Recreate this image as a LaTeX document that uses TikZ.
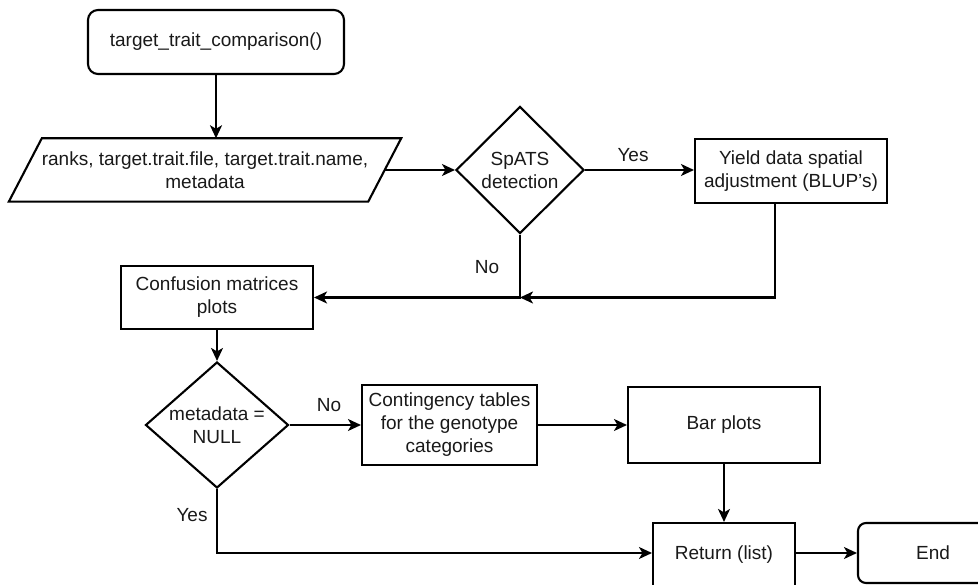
\documentclass[tikz,border=0pt]{standalone}
\usepackage{fontspec}
\setmainfont{Liberation Sans}
\usetikzlibrary{shapes.geometric,arrows.meta}

\begin{document}
\begin{tikzpicture}[x=1pt,y=-1pt,
  every node/.style={font=\fontsize{19}{23}\selectfont, text=black!90},
  base/.style={draw=black, line width=2.1pt, align=center, inner sep=0pt},
  procbox/.style={base, rectangle},
  termbox/.style={base, rectangle, rounded corners=10pt},
  decision/.style={base, diamond},
  edgelabel/.style={inner sep=0pt},
  arr/.style={draw=black, line width=2.1pt,
    -{Stealth[length=13pt, width=12pt, inset=3.5pt]}},
  plain/.style={draw=black, line width=2.1pt}]

\clip (0,0) rectangle (978,585);
\useasboundingbox (0,0) rectangle (978,585);

% nodes
\node[termbox, minimum width=256, minimum height=64] (start) at (216,42)
  {target\_trait\_comparison()};

\node[align=center, inner sep=0pt, minimum width=359, minimum height=63] (input) at (205,170)
  {ranks, target.trait.file, target.trait.name,\\metadata};
\draw[plain, line join=miter]
  ([xshift=-16.5pt]input.south west) -- ([xshift=16.5pt]input.north west)
  -- ([xshift=16.5pt]input.north east) -- ([xshift=-16.5pt]input.south east) -- cycle;

\node[decision, minimum width=128, minimum height=127,
  label={[align=center]center:SpATS\\detection}] (spats) at (520,170) {};

\node[procbox, minimum width=192, minimum height=64] (yield) at (791,171)
  {Yield data spatial\\adjustment (BLUP's)};

\node[procbox, minimum width=192, minimum height=63] (conf) at (217,297.5)
  {Confusion matrices\\plots};

\node[decision, minimum width=143, minimum height=126,
  label={[align=center]center:metadata =\\NULL}] (meta) at (217,425) {};

\node[procbox, minimum width=175, minimum height=80] (cont) at (449.5,425)
  {Contingency tables\\for the genotype\\categories};

\node[procbox, minimum width=192, minimum height=76] (bar) at (724,425)
  {Bar plots};

\node[procbox, minimum width=142, minimum height=64] (ret) at (724,555)
  {Return (list)};

\node[termbox, rounded corners=8pt, minimum width=150, minimum height=60] (end) at (933,553)
  {End};

% connectors
\draw[arr] (start.south) -- (start.south |- input.north);
\draw[arr] (input.east) -- (spats.west);
\draw[arr] (spats.east) -- (yield.west |- spats.east);
\draw[arr] ([xshift=-16pt]yield.south) |- (spats.south |- conf.east);
\draw[arr] (spats.south) |- (conf.east);
\draw[arr] (conf.south) -- (meta.north);
\draw[arr] (meta.east) -- (cont.west);
\draw[arr] (cont.east) -- (bar.west);
\draw[arr] (bar.south) -- (ret.north);
\draw[arr] (meta.south) |- (ret.west |- end.west);
\draw[arr] (ret.east |- end.west) -- (end.west);

% branch labels
\node[edgelabel] (yes1) at (633,155) {Yes};
\node[edgelabel] (no1) at (487,267) {No};
\node[edgelabel] (no2) at (329,405) {No};
\node[edgelabel] (yes2) at (192,515) {Yes};

\end{tikzpicture}
\end{document}
